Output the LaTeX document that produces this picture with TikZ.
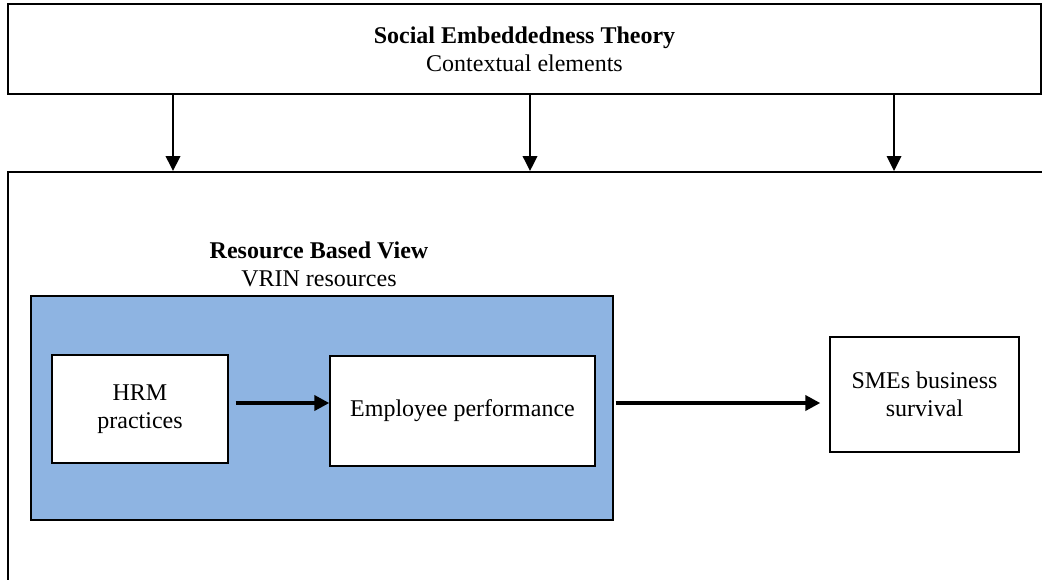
\documentclass[tikz,border=0pt]{standalone}
\usepackage{fontspec}
\setmainfont{Liberation Serif}
\usepackage{xcolor}
\definecolor{rbvblue}{RGB}{142,180,226}
\usepackage{tikz}
\usetikzlibrary{positioning}
\usetikzlibrary{arrows.meta}

\begin{document}
\begin{tikzpicture}[x=0.5pt,y=-0.5pt,
  font=\fontsize{12}{13.8}\selectfont,
  box/.style={draw,line width=0.7pt,fill=white,inner sep=0pt,align=center},
  thinarrow/.style={line width=0.8pt,-{Triangle[length=7.5pt,width=7.3pt]}},
  fatarrow/.style={line width=2pt,-{Triangle[length=7.5pt,width=7.5pt]}}]
\useasboundingbox (0,0) rectangle (1042,579);
% outer frame, runs off the page to the right and bottom
\node (frame) at (554,436) [box,line width=1pt,minimum width=546pt,minimum height=264pt]{};
\node (embed) at (524.5,49) [box,minimum width=516.5pt,minimum height=45pt]
  {\textbf{Social Embeddedness Theory}\\Contextual elements};
\foreach \x in {173,530,894}
  \draw[thinarrow] (\x,0 |- embed.south) -- (\x,0 |- frame.north);
% resource based view
\node (rbv) at (322,408) [box,fill=rbvblue,minimum width=291pt,minimum height=112pt]{};
\node (rbvtitle) [above=4pt of rbv,xshift=-1.5pt,align=center,inner sep=0pt]
  {\textbf{Resource Based View}\\VRIN resources};
\node (hrm) at (140,409) [box,minimum width=88pt,minimum height=54pt]{HRM\\practices};
\node (emp) at (462.5,411) [box,minimum width=132.5pt,minimum height=55pt]{Employee performance};
\node (smes) at (924.5,394.5) [box,minimum width=94.5pt,minimum height=57.5pt]{SMEs business\\survival};
\draw[fatarrow,shorten <=3.5pt] ([yshift=3pt]hrm.east) -- ([yshift=3pt]hrm.east -| emp.west);
\draw[fatarrow,shorten <=10pt,shorten >=4.5pt] ([yshift=4pt]emp.east) -- ([yshift=4pt]emp.east -| smes.west);
\end{tikzpicture}
\end{document}
